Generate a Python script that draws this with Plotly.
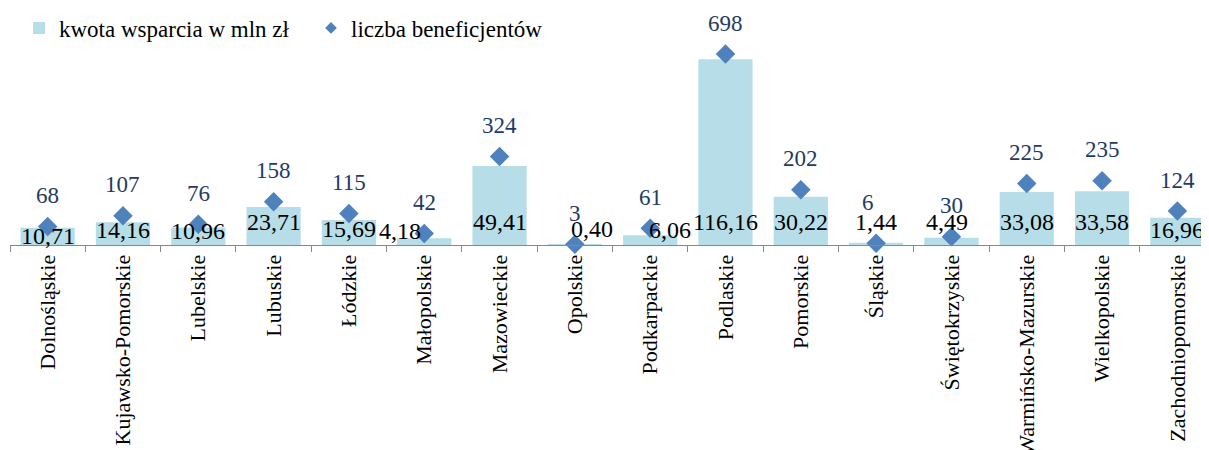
import plotly.graph_objects as go

# ---- data ----
regions = ["Dolnośląskie", "Kujawsko-Pomorskie", "Lubelskie", "Lubuskie", "Łódzkie",
           "Małopolskie", "Mazowieckie", "Opolskie", "Podkarpackie", "Podlaskie",
           "Pomorskie", "Śląskie", "Świętokrzyskie", "Warmińsko-Mazurskie",
           "Wielkopolskie", "Zachodniopomorskie"]
kwota = [10.71, 14.16, 10.96, 23.71, 15.69, 4.18, 49.41, 0.40, 6.06, 116.16,
         30.22, 1.44, 4.49, 33.08, 33.58, 16.96]
beneficjenci = [68, 107, 76, 158, 115, 42, 324, 3, 61, 698, 202, 6, 30, 225, 235, 124]

# ---- label placement tweaks (pixels) ----
bar_label_dx = [0, 0, 0, 0, 0, -24, 0, 17, 20, 0, 0, 0, -4, 0, 0, 0]
bar_label_dy = [-14, -8, -9, 0, -7, -9, 0, -7, -8, 0, 0, 0, 0, 0, 0, -8]
pt_label_dx = [0] * 16
pt_label_dx[11] = -8
pt_label_dy = [0] * 16
pt_label_dy[11] = 10

FONT = "Liberation Serif"
BAR_COLOR = "#B7DEE8"
PT_COLOR = "#4F81BD"
PT_LABEL_COLOR = "#1F3B63"

# page has an 8px body margin
W, H = 1201, 442
M_T, M_B, M_L, M_R = 2, 205, 2, 0
plot_h = H - M_T - M_B
bar_px_per_unit = 1.6
pt_px_per_unit = 0.2735

fig = go.Figure()
fig.add_trace(go.Bar(
    x=regions, y=kwota, name="kwota wsparcia w mln zł",
    marker=dict(color=BAR_COLOR, line=dict(width=0)),
    width=0.72, yaxis="y", cliponaxis=False,
))
fig.add_trace(go.Scatter(
    x=regions, y=beneficjenci, name="liczba beneficjentów",
    mode="markers", marker=dict(symbol="diamond", size=15, color=PT_COLOR),
    yaxis="y2", cliponaxis=False, showlegend=False, legendgroup="b",
))
# legend entry with a smaller diamond, as in the original
fig.add_trace(go.Scatter(
    x=[None], y=[None], name="liczba beneficjentów",
    mode="markers", marker=dict(symbol="diamond", size=9, color=PT_COLOR),
    yaxis="y2", showlegend=True, legendgroup="b",
))

annotations = []
for i, (r, v) in enumerate(zip(regions, kwota)):
    annotations.append(dict(
        x=r, y=0, xref="x", yref="y", text=f"{v:.2f}".replace(".", ","),
        showarrow=False, yanchor="middle", xanchor="center",
        xshift=bar_label_dx[i], yshift=23 + bar_label_dy[i],
        font=dict(family=FONT, size=24, color="black"),
    ))
for i, (r, v) in enumerate(zip(regions, beneficjenci)):
    annotations.append(dict(
        x=r, y=v, xref="x", yref="y2", text=str(v),
        showarrow=False, yanchor="middle", xanchor="center",
        xshift=pt_label_dx[i], yshift=31 + pt_label_dy[i],
        font=dict(family=FONT, size=23, color=PT_LABEL_COLOR),
    ))

fig.update_layout(
    width=W, height=H,
    margin=dict(t=M_T, b=M_B, l=M_L, r=M_R, autoexpand=False),
    paper_bgcolor="white", plot_bgcolor="white",
    font=dict(family=FONT, size=22, color="black"),
    showlegend=True,
    legend=dict(orientation="h", xref="container", yref="container",
                x=11 / W, y=1 - 20 / H, xanchor="left", yanchor="middle",
                entrywidth=247,
                font=dict(family=FONT, size=23, color="black"),
                bgcolor="rgba(0,0,0,0)", itemclick=False),
    xaxis=dict(type="category", range=[-0.5, 15.42], showline=True,
               linecolor="#888888", linewidth=1, ticks="outside",
               tickson="boundaries", ticklen=6, tickcolor="#888888",
               tickangle=-90, showgrid=False, zeroline=False, automargin=False,
               tickfont=dict(family=FONT, size=22, color="black")),
    yaxis=dict(range=[0, plot_h / bar_px_per_unit], visible=False),
    yaxis2=dict(range=[0, plot_h / pt_px_per_unit], overlaying="y",
                side="right", visible=False),
    annotations=annotations,
    bargap=0.28,
)

fig.write_html("out.html")
